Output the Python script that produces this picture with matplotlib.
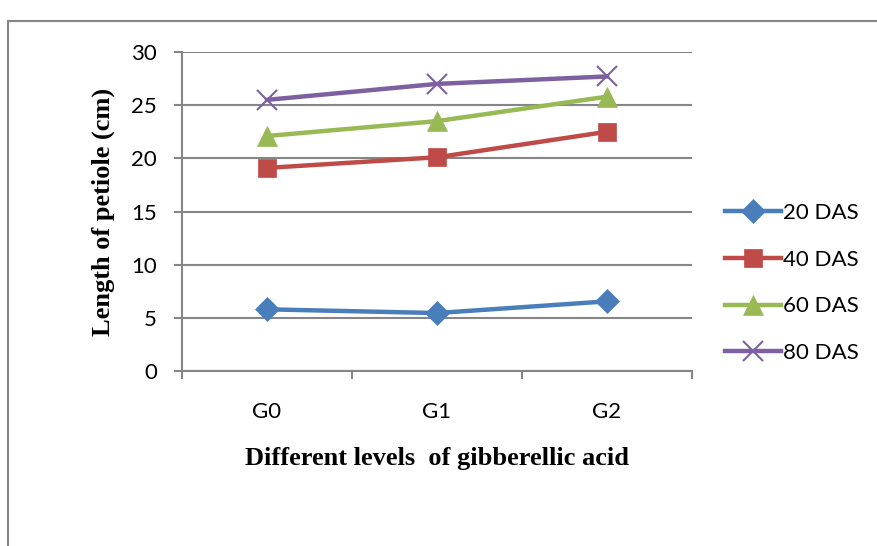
import matplotlib
matplotlib.use("Agg")
from matplotlib import pyplot as plt
from matplotlib.patches import Rectangle

levels = ["G0", "G1", "G2"]
das_20 = [5.8, 5.45, 6.55]
das_40 = [19.1, 20.1, 22.5]
das_60 = [22.1, 23.5, 25.8]
das_80 = [25.5, 27.0, 27.7]
series_names = ["20 DAS", "40 DAS", "60 DAS", "80 DAS"]

grey = "#868686"
tick_font = "Lato"
label_font = "Liberation Serif"

fig = plt.figure(figsize=(8.78, 5.46), dpi=100)
ax = fig.add_axes([182 / 878, 1 - 371 / 546, 510 / 878, 319 / 546])

# frame round the whole chart, as in the word-processor export
fig.patches.append(Rectangle((8 / 878, -0.05), 1.2, 1 - 21 / 546 + 0.05,
                             transform=fig.transFigure, fill=False,
                             edgecolor=grey, linewidth=1.5))

x = range(len(levels))
styles = [
    (das_20, "#4A7EBB", "D", 12),
    (das_40, "#BE4B48", "s", 13),
    (das_60, "#98B954", "^", 14),
    (das_80, "#7D60A0", "x", 14),
]
for (vals, col, mk, ms), name in zip(styles, series_names):
    ax.plot(x, vals, color=col, linewidth=3.2, marker=mk, markersize=ms,
            markeredgewidth=1.5 if mk == "x" else 0.5, markeredgecolor=col,
            label=name, clip_on=False)

ax.set_xlim(-0.5, 2.5)
ax.set_ylim(0, 30)
ax.set_yticks(range(0, 31, 5))
ax.set_xticks(list(x))
ax.set_xticklabels(levels)
ax.set_xticks([-0.5, 0.5, 1.5, 2.5], minor=True)
ax.tick_params(axis="x", which="major", length=0, pad=22)
ax.tick_params(axis="x", which="minor", length=6, width=1.5, color=grey)
ax.tick_params(axis="y", length=6, width=1.5, color=grey, pad=12)
for lab in ax.get_xticklabels() + ax.get_yticklabels():
    lab.set_fontfamily(tick_font)
    lab.set_fontsize(16)

ax.grid(axis="y", color=grey, linewidth=1.5)
ax.set_axisbelow(True)
for side in ["top", "right"]:
    ax.spines[side].set_visible(False)
for side in ["left", "bottom"]:
    ax.spines[side].set_color(grey)
    ax.spines[side].set_linewidth(1.5)

ax.set_xlabel("Different levels  of gibberellic acid", fontfamily=label_font,
              fontweight="bold", fontsize=19, labelpad=18)
ax.set_ylabel("Length of petiole (cm)", fontfamily=label_font,
              fontweight="bold", fontsize=19, labelpad=12)

leg = fig.legend(*ax.get_legend_handles_labels(), loc="center left",
                 bbox_to_anchor=(725 / 878, 1 - 283 / 546), frameon=False,
                 prop={"family": tick_font, "size": 16}, handlelength=2.5,
                 handletextpad=0.1, labelspacing=1.2, borderpad=0,
                 borderaxespad=0)

fig.savefig("out.png", dpi=100)
